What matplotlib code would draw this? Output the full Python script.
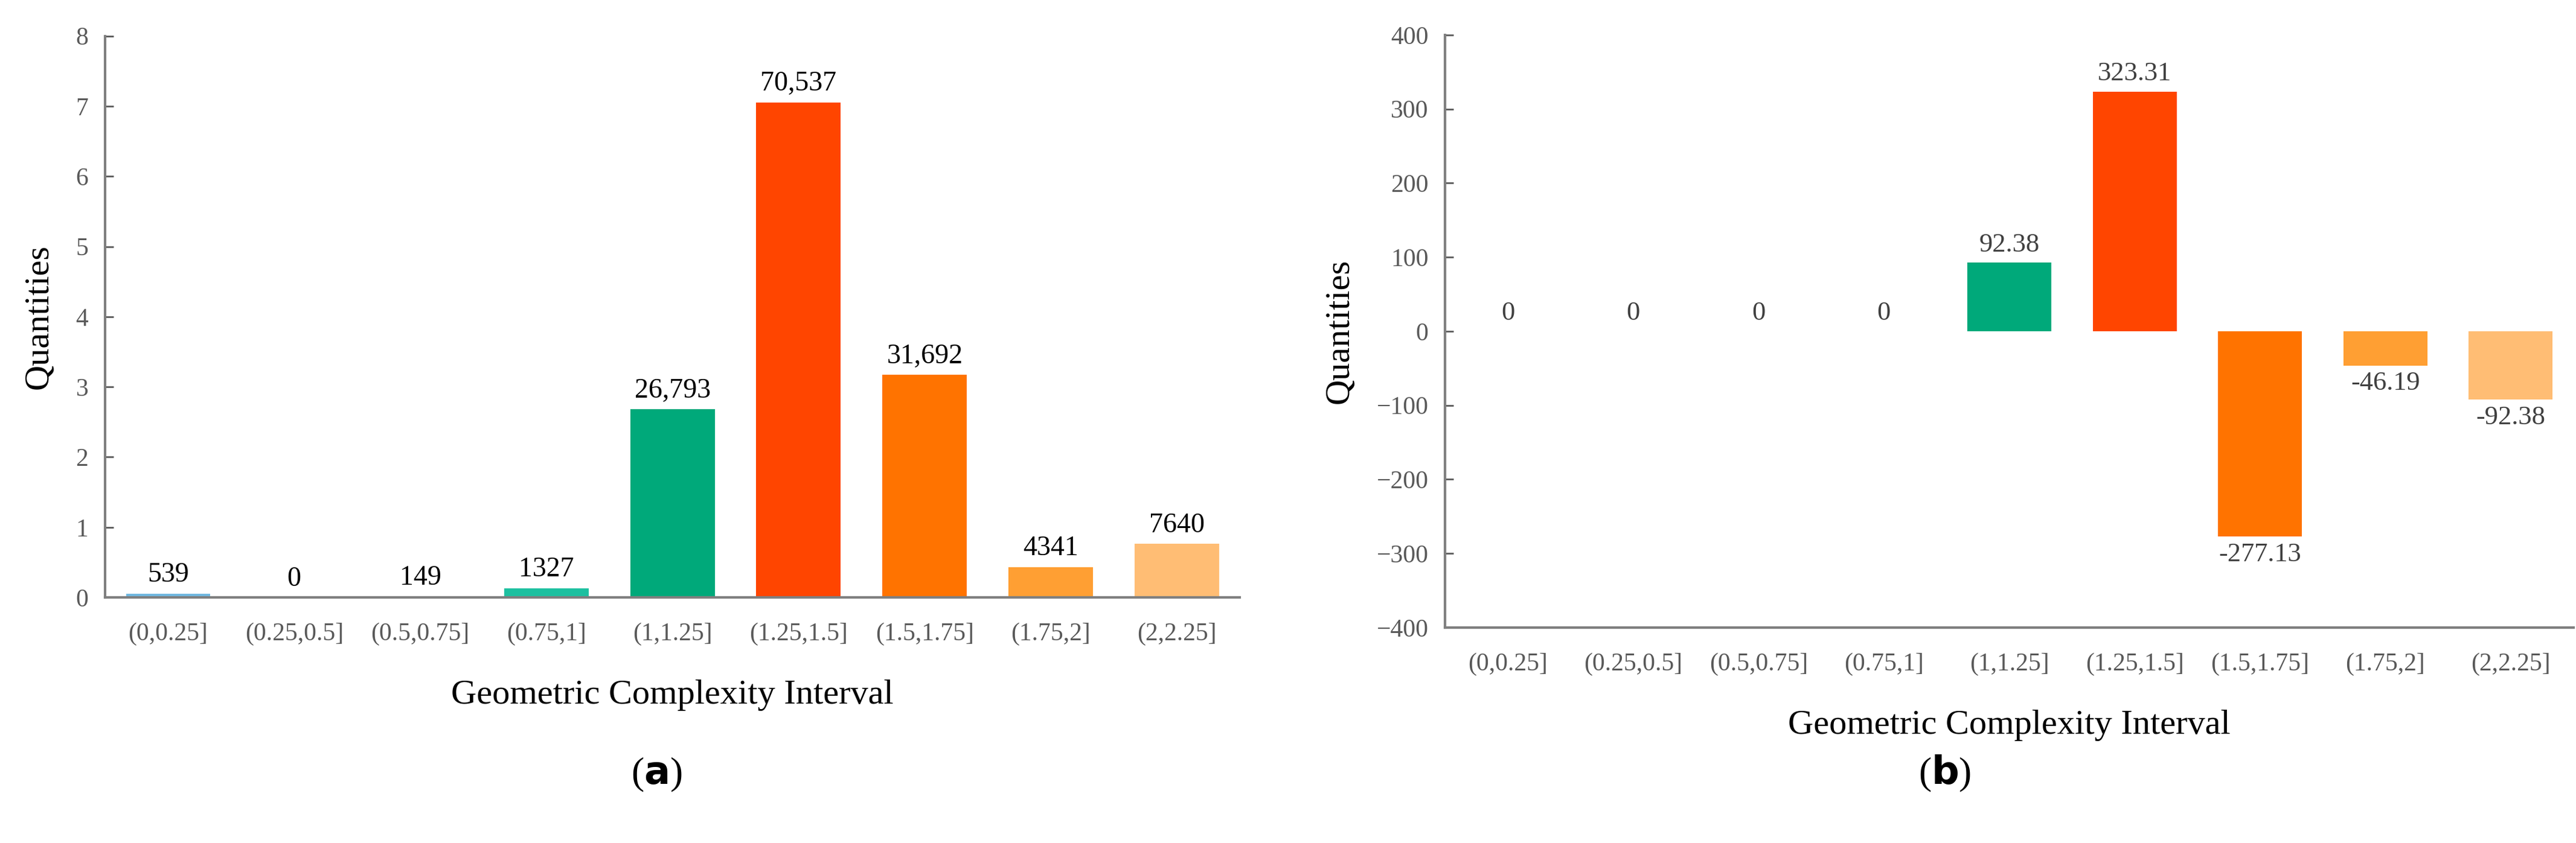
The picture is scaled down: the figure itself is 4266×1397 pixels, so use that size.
import matplotlib.pyplot as plt
import numpy as np

plt.rcParams['font.family'] = ['Liberation Serif', 'DejaVu Serif']

intervals = ['(0,0.25]', '(0.25,0.5]', '(0.5,0.75]', '(0.75,1]', '(1,1.25]',
             '(1.25,1.5]', '(1.5,1.75]', '(1.75,2]', '(2,2.25]']
counts = [539, 0, 149, 1327, 26793, 70537, 31692, 4341, 7640]
count_labels = ['539', '0', '149', '1327', '26,793', '70,537', '31,692', '4341', '7640']
changes = [0, 0, 0, 0, 92.38, 323.31, -277.13, -46.19, -92.38]
change_labels = ['0', '0', '0', '0', '92.38', '323.31', '-277.13', '-46.19', '-92.38']
colors = ['#6FB7E0', '#4FC8B0', '#3CC6AE', '#1DC0A0', '#00A97A',
          '#FF4500', '#FF7300', '#FF9F33', '#FFBD74']

fig = plt.figure(figsize=(42.66, 13.97), dpi=100)
ax1 = fig.add_axes([0.0408, 0.2913, 0.4405, 0.666])
ax2 = fig.add_axes([0.561, 0.2556, 0.438, 0.703])

x = np.arange(len(intervals))
spine_col = '#7F7F7F'
tick_col = '#595959'

def style(ax):
    for s in ['top', 'right']:
        ax.spines[s].set_visible(False)
    for s in ['left', 'bottom']:
        ax.spines[s].set_color(spine_col)
        ax.spines[s].set_linewidth(3)
    ax.tick_params(axis='y', colors=tick_col, labelsize=30, length=10, width=2, direction='in', pad=20)
    ax.tick_params(axis='x', colors=tick_col, labelsize=30, length=0, pad=30)
    ax.set_xticks(x)
    ax.set_xticklabels(intervals)
    ax.set_xlim(-0.5, len(intervals) - 0.5)
    ax.set_xlabel('Geometric Complexity Interval', fontsize=42, labelpad=40)
    ax.set_ylabel('Quantities', fontsize=42, labelpad=25)

# (a) quantities in units of 10^4
vals = np.array(counts) / 10000
ax1.bar(x, vals, width=0.67, color=colors)
for xi, v, lab in zip(x, vals, count_labels):
    ax1.text(xi, v + 0.08, lab, ha='center', va='bottom', fontsize=33, color='black')
ax1.set_ylim(0, 8)
ax1.set_yticks(range(0, 9))
style(ax1)

# (b) change
ax2.bar(x, changes, width=0.67, color=colors)
for xi, v, lab in zip(x, changes, change_labels):
    if v >= 0:
        ax2.text(xi, v + 8, lab, ha='center', va='bottom', fontsize=32, color='#404040')
    else:
        ax2.text(xi, v - 8, lab, ha='center', va='top', fontsize=32, color='#404040')
ax2.set_ylim(-400, 400)
ax2.set_yticks(range(-400, 401, 100))
style(ax2)

fig.text(0.255, 0.07, r'($\mathbf{a}$)', ha='center', fontsize=46)
fig.text(0.755, 0.07, r'($\mathbf{b}$)', ha='center', fontsize=46)

fig.savefig('out.png', dpi=100)
